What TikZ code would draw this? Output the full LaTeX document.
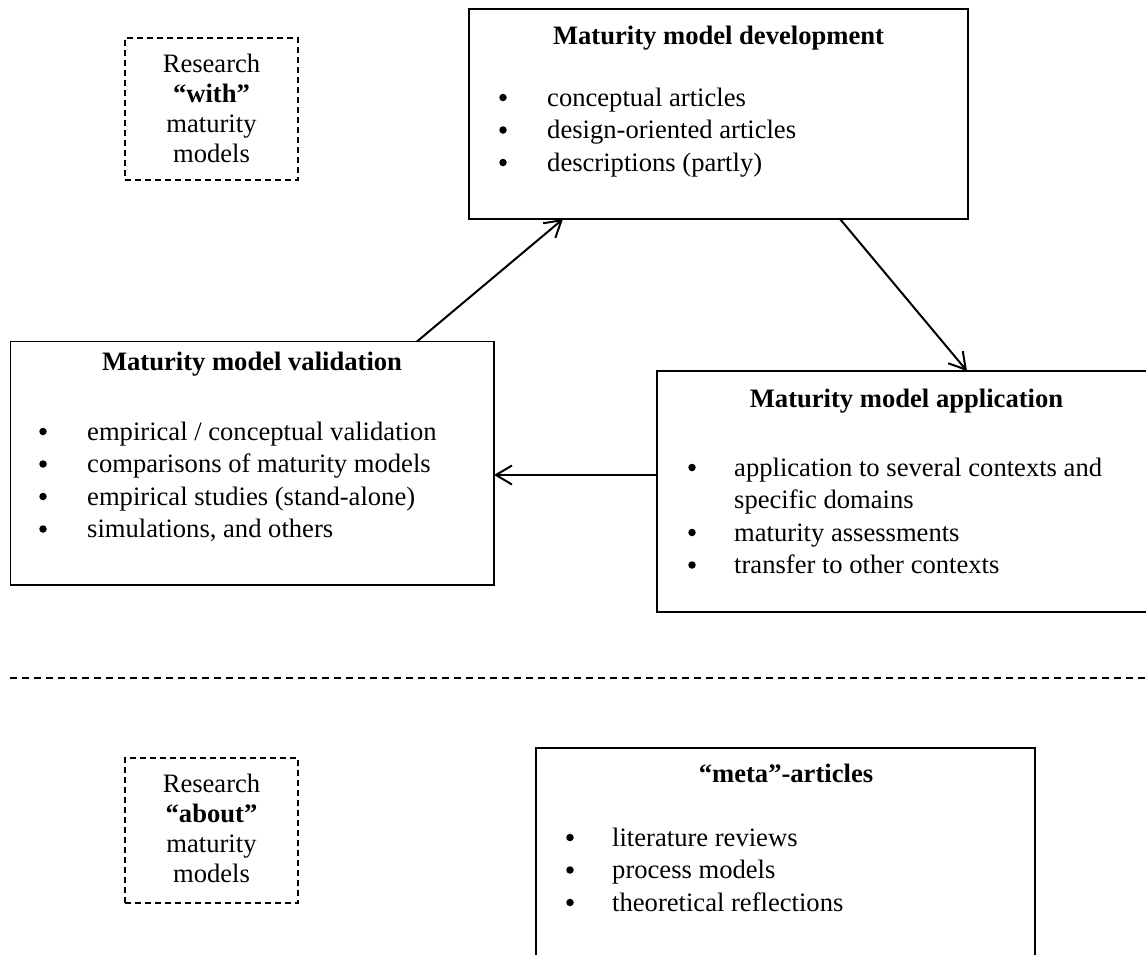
\documentclass[tikz,border=0pt]{standalone}
\usepackage{fontspec}
\setmainfont{Liberation Serif}
\usetikzlibrary{arrows.meta}
\begin{document}
\begin{tikzpicture}[x=1pt,y=-1pt,
  box/.style={draw, line width=1.5pt, inner sep=0pt, outer sep=0pt, anchor=north west},
  dbox/.style={box, dash pattern=on 6pt off 4pt},
  dline/.style={line width=1.5pt, dash pattern=on 7pt off 5pt},
  arr/.style={line width=2pt, -{Straight Barb[length=16pt,width=19pt,line width=2pt]}},
  tx/.style={font=\fontsize{26.6}{32}\selectfont, inner sep=0pt, anchor=base west},
  ctx/.style={font=\fontsize{26.6}{32}\selectfont, inner sep=0pt, anchor=base},
  ttl/.style={font=\fontsize{26.6}{32}\selectfont\bfseries, inner sep=0pt, anchor=base},
  dot/.style={circle, fill, inner sep=0pt, minimum size=7.5pt}]
\useasboundingbox (0,0) rectangle (1146,954);

% boxes
\node[dbox, minimum width=173pt, minimum height=142pt] (with) at (125,38) {};
\node[box, minimum width=499pt, minimum height=210pt] (dev) at (469,9) {};
\node[box, minimum width=483.5pt, minimum height=243.5pt] (val) at (10.5,341.5) {};
\node[box, minimum width=499pt, minimum height=241pt] (app) at (657,371) {};
\node[dbox, minimum width=173pt, minimum height=145pt] (about) at (125,758) {};
\node[box, minimum width=499pt, minimum height=260pt] (meta) at (536,748) {};

% research with
\node[ctx] (w1) at (211.5,72) {Research};
\node[ctx] (w2) at (211.5,102) {\textbf{“with”}};
\node[ctx] (w3) at (211.5,132) {maturity};
\node[ctx] (w4) at (211.5,162) {models};

% development
\node[ttl] (devt) at (718.5,44) {Maturity model development};
\node[dot] (d1) at (503,97.5) {};
\node[tx] (dt1) at (547,106) {conceptual articles};
\node[dot] (d2) at (503,130) {};
\node[tx] (dt2) at (547,138.5) {design-oriented articles};
\node[dot] (d3) at (503,162.5) {};
\node[tx] (dt3) at (547,171) {descriptions (partly)};

% validation
\node[ttl] (valt) at (252,370) {Maturity model validation};
\node[dot] (v1) at (43,431.5) {};
\node[tx] (vt1) at (87,440) {empirical / conceptual validation};
\node[dot] (v2) at (43,464) {};
\node[tx] (vt2) at (87,472.5) {comparisons of maturity models};
\node[dot] (v3) at (43,496.5) {};
\node[tx] (vt3) at (87,505) {empirical studies (stand-alone)};
\node[dot] (v4) at (43,529) {};
\node[tx] (vt4) at (87,537.5) {simulations, and others};

% application
\node[ttl] (appt) at (906.5,407) {Maturity model application};
\node[dot] (a1) at (692,467.5) {};
\node[tx] (at1) at (734,476) {application to several contexts and};
\node[tx] (at1b) at (734,508.5) {specific domains};
\node[dot] (a2) at (692,532.5) {};
\node[tx] (at2) at (734,541) {maturity assessments};
\node[dot] (a3) at (692,565) {};
\node[tx] (at3) at (734,573.5) {transfer to other contexts};

% separator
\draw[dline] (10,678) -- (1146,678);

% research about
\node[ctx] (b1) at (211.5,792) {Research};
\node[ctx] (b2) at (211.5,822) {\textbf{“about”}};
\node[ctx] (b3) at (211.5,852) {maturity};
\node[ctx] (b4) at (211.5,882) {models};

% meta
\node[ttl] (metat) at (786,782) {“meta”-articles};
\node[dot] (m1) at (570,837.5) {};
\node[tx] (mt1) at (612,846) {literature reviews};
\node[dot] (m2) at (570,870) {};
\node[tx] (mt2) at (612,878.5) {process models};
\node[dot] (m3) at (570,902.5) {};
\node[tx] (mt3) at (612,911) {theoretical reflections};

% arrows
\coordinate (h) at (0,475);
\draw[arr] ([xshift=406.5pt]val.north west) -- ([xshift=94pt]dev.south west);
\draw[arr] ([xshift=371pt]dev.south west) -- ([xshift=310pt]app.north west);
\draw[arr] (app.west |- h) -- (val.east |- h);
\end{tikzpicture}
\end{document}
